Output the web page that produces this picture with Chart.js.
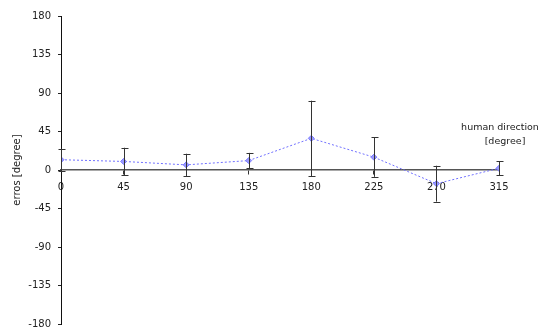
<!DOCTYPE html>
<html>
<head>
<meta charset="utf-8">
<script src="https://cdn.jsdelivr.net/npm/chart.js@4"></script>
<style>
  html, body { margin: 0; padding: 0; background: #fff; }
  #wrap { width: 539px; height: 331px; position: relative; }
</style>
</head>
<body>
<div id="wrap"><canvas id="errChart"></canvas></div>
<script>
// human direction [degree]
const directions = [0, 45, 90, 135, 180, 225, 270, 315];
// mean error [degree]
const errors = [12, 10, 6, 11, 37, 15, -16, 2];
// error bar half-length [degree]
const spreads = [13, 16, 13, 9, 44, 23, 21, 8];
const yTicks = [-180, -135, -90, -45, 0, 45, 90, 135, 180];

// draws the vertical error bars through the chart scales
const errorBars = {
    id: 'errorBars',
    afterDatasetsDraw(chart) {
        const { ctx, scales: { x, y } } = chart;
        ctx.save();
        ctx.strokeStyle = '#333';
        ctx.lineWidth = 1;
        directions.forEach((d, i) => {
            const px = Math.round(x.getPixelForValue(d)) + 0.5;
            const top = y.getPixelForValue(errors[i] + spreads[i]);
            const bot = y.getPixelForValue(errors[i] - spreads[i]);
            ctx.beginPath();
            ctx.moveTo(px, top); ctx.lineTo(px, bot);
            ctx.moveTo(px - 3, Math.round(top) + 0.5); ctx.lineTo(px + 4, Math.round(top) + 0.5);
            ctx.moveTo(px - 3, Math.round(bot) + 0.5); ctx.lineTo(px + 4, Math.round(bot) + 0.5);
            ctx.stroke();
        });
        // x axis title, to the right above the axis
        ctx.fillStyle = '#222';
        ctx.font = '9.5px "DejaVu Sans", sans-serif';
        ctx.textAlign = 'center';
        ctx.textBaseline = 'middle';
        const tx = x.right + 1;
        const ty = y.getPixelForValue(0);
        ctx.fillText('human direction', tx, ty - 42);
        ctx.fillText('[degree]', tx + 5, ty - 28);
        ctx.restore();
    }
};

new Chart(document.getElementById('errChart'), {
    type: 'line',
    data: {
        datasets: [{
            data: directions.map((d, i) => ({ x: d, y: errors[i] })),
            borderColor: '#7070ff',
            borderWidth: 1,
            borderDash: [2, 2],
            pointStyle: 'rectRot',
            pointRadius: 3,
            pointBackgroundColor: '#9a9aff',
            pointBorderColor: '#7c7cff',
            pointBorderWidth: 1,
            tension: 0
        }]
    },
    options: {
        responsive: true,
        maintainAspectRatio: false,
        animation: false,
        layout: { padding: { top: 16, bottom: 7, right: 40, left: 0 } },
        plugins: {
            legend: { display: false },
            tooltip: { enabled: false }
        },
        scales: {
            x: {
                type: 'linear',
                position: { y: 0 },
                min: 0,
                max: 315,
                afterBuildTicks: (scale) => { scale.ticks = directions.map(v => ({ value: v })); },
                afterFit: (scale) => { scale.height = 0; },
                grid: { drawOnChartArea: false, drawTicks: true, tickLength: 4, color: '#333' },
                border: { color: '#555', width: 1.5 },
                ticks: { color: '#222', font: { size: 10, family: '"DejaVu Sans", sans-serif' }, padding: 7, maxRotation: 0 }
            },
            y: {
                min: -180,
                max: 180,
                afterBuildTicks: (scale) => { scale.ticks = yTicks.map(v => ({ value: v })); },
                afterFit: (scale) => { scale.width = 61; scale.paddingTop = 0; scale.paddingBottom = 0; },
                grid: { drawOnChartArea: false, drawTicks: true, tickLength: 3, color: '#222' },
                border: { color: '#111', width: 1 },
                ticks: { color: '#222', font: { size: 10, family: '"DejaVu Sans", sans-serif' }, padding: 7 },
                title: {
                    display: true,
                    text: 'erros [degree]',
                    color: '#222',
                    font: { size: 10, family: '"DejaVu Sans", sans-serif' },
                    padding: { top: 11, bottom: 0 }
                }
            }
        }
    },
    plugins: [errorBars]
});
</script>
</body>
</html>
